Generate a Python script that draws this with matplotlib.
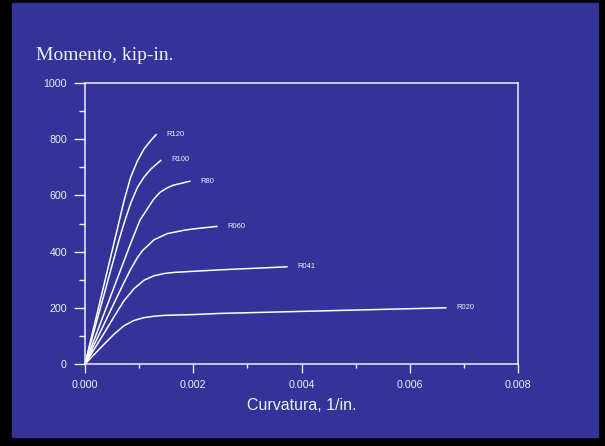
import numpy as np
import matplotlib
matplotlib.use('Agg')
import matplotlib.pyplot as plt
from matplotlib.patches import Rectangle
from matplotlib.ticker import MultipleLocator, FormatStrFormatter

# curvature (1/in.) and moment (kip-in.)
r120_x = [0, 0.000597, 0.00072, 0.000844, 0.000967, 0.00109, 0.001213, 0.001325]
r120_y = [0, 480, 580, 665, 722, 765, 795, 818]
r100_x = [0, 0.000628, 0.00072, 0.000844, 0.000967, 0.00109, 0.001213, 0.001336, 0.00141]
r100_y = [0, 441, 500, 572, 628, 665, 693, 714, 726]
r80_x = [0, 0.000831, 0.001016, 0.00126, 0.00138, 0.00151, 0.00163, 0.001755, 0.00195]
r80_y = [0, 423, 512, 584, 610, 626, 636, 642, 651]
r060_x = [0, 0.000536, 0.00072, 0.000844, 0.000967, 0.00106, 0.001275, 0.00152, 0.00183,
          0.002014, 0.00245]
r060_y = [0, 216, 290, 337, 378, 403, 442, 464, 476, 481, 490]
r041_x = [0, 0.000351, 0.000536, 0.00072, 0.000905, 0.00109, 0.001275, 0.00146, 0.001644,
          0.002014, 0.00249, 0.003745]
r041_y = [0, 109, 168, 225, 268, 298, 314, 322, 326, 330, 335, 346]
r020_x = [0, 0.000351, 0.000536, 0.00072, 0.000905, 0.00109, 0.001275, 0.00146, 0.002014,
          0.00249, 0.00668]
r020_y = [0, 70, 106, 136, 155, 165, 170, 173, 176, 180, 200]

names = ['R120', 'R100', 'R80', 'R060', 'R041', 'R020']
xs = [r120_x, r100_x, r80_x, r060_x, r041_x, r020_x]
ys = [r120_y, r100_y, r80_y, r060_y, r041_y, r020_y]

bg = '#333399'
fg = '#f0f0f8'

fig = plt.figure(figsize=(6.05, 4.46), dpi=100, facecolor='black')
fig.patches.append(Rectangle((12/605, 9/446), 586/605, 434/446,
                             transform=fig.transFigure, color=bg, zorder=-10))

ax = fig.add_axes([85/605, 82/446, 433/605, 281/446])
ax.set_facecolor(bg)

for x, y, n in zip(xs, ys, names):
    ax.plot(x, y, color='white', lw=1.1, solid_capstyle='butt',
            solid_joinstyle='round')
    ax.annotate(n, (x[-1], y[-1]), xytext=(7, 0), textcoords='offset points',
                color=fg, fontsize=5.5, va='center', ha='left',
                family='Liberation Sans')

ax.set_xlim(0, 0.008)
ax.set_ylim(0, 1000)
ax.xaxis.set_major_locator(MultipleLocator(0.002))
ax.xaxis.set_minor_locator(MultipleLocator(0.001))
ax.yaxis.set_major_locator(MultipleLocator(200))
ax.yaxis.set_minor_locator(MultipleLocator(100))
ax.xaxis.set_major_formatter(FormatStrFormatter('%.3f'))

for s in ax.spines.values():
    s.set_color(fg)
    s.set_linewidth(1.1)

ax.tick_params(axis='both', which='both', direction='out', colors=fg,
               width=1.0, labelsize=7.7)
ax.tick_params(axis='y', which='major', length=8, pad=5)
ax.tick_params(axis='y', which='minor', length=4.3)
ax.tick_params(axis='x', which='major', length=6.5, pad=5)
ax.tick_params(axis='x', which='minor', length=3)
for lab in ax.get_xticklabels() + ax.get_yticklabels():
    lab.set_family('Liberation Sans')

ax.set_xlabel('Curvatura, 1/in.', color=fg, fontsize=11.5, family='Liberation Sans')
ax.xaxis.set_label_coords(0.5, -0.146)
ax.xaxis.label.set_va('center')

fig.text(36/605, (446 - 60)/446, 'Momento, kip-in.', color=fg, fontsize=14,
         family='Liberation Serif', va='baseline', ha='left')

fig.savefig('out.png', dpi=100, facecolor=fig.get_facecolor())
